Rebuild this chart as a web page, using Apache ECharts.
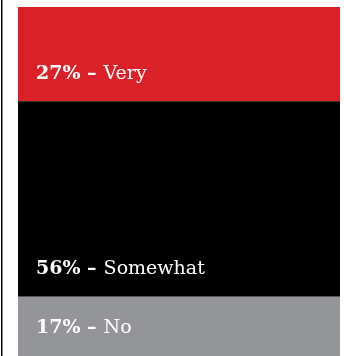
<!DOCTYPE html>
<html>
<head>
<meta charset="utf-8">
<style>
  html, body { margin: 0; padding: 0; background: #ffffff; }
  #chart { width: 344px; height: 356px; }
</style>
<script src="https://cdn.jsdelivr.net/npm/echarts@6/dist/echarts.min.js"></script>
</head>
<body>
<div id="chart"></div>
<script>
// Share of responses, stacked top to bottom
const categories = ['Very', 'Somewhat', 'No'];
const shares = [27, 56, 17];
const colors = ['#da2128', '#000000', '#939598'];

const chart = echarts.init(document.getElementById('chart'), null, { renderer: 'canvas' });

const series = categories.map((name, i) => ({
  name: name,
  type: 'bar',
  stack: 'total',
  barWidth: '100%',
  data: [shares[i]],
  itemStyle: { color: colors[i] },
  label: {
    show: true,
    position: 'insideBottomLeft',
    distance: 18,
    formatter: '{b|' + shares[i] + '% \u2013}{r|' + name + '}',
    rich: {
      b: { fontFamily: 'DejaVu Serif', fontWeight: 'bold', fontSize: 19, color: '#ffffff' },
      r: { fontFamily: 'DejaVu Serif', fontWeight: 'normal', fontSize: 19, color: '#ffffff', padding: [0, 0, 0, 7] }
    }
  }
}));

chart.setOption({
  animation: false,
  backgroundColor: '#ffffff',
  grid: { left: 18, right: 4, top: 7, bottom: 0 },
  xAxis: { type: 'category', data: ['Responses'], show: false },
  yAxis: { type: 'value', min: 0, max: 100, inverse: true, show: false },
  graphic: [{
    type: 'rect',
    shape: { x: 1, y: 0, width: 1.5, height: 356 },
    style: { fill: '#000000' }
  }],
  series: series
});
</script>
</body>
</html>
